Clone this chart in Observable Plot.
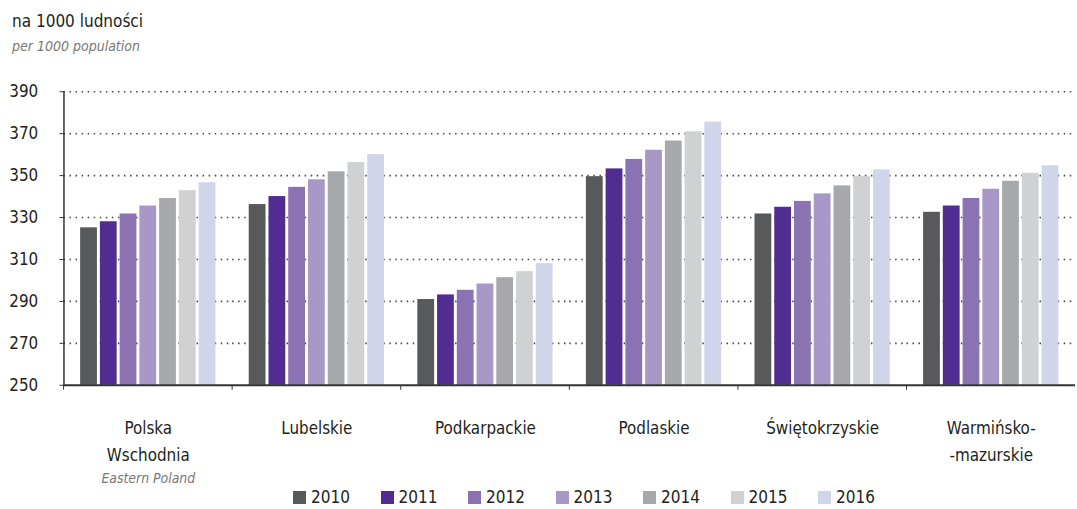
<!DOCTYPE html>
<html><head><meta charset="utf-8">
<script src="https://cdn.jsdelivr.net/npm/d3@7"></script>
<script src="https://cdn.jsdelivr.net/npm/@observablehq/plot@0.6"></script>
<style>
body{margin:0;background:#fff;overflow:hidden;width:1077px;height:509px;}
#wrap{position:relative;width:1077px;height:509px;overflow:hidden;font-family:"DejaVu Sans Condensed","DejaVu Sans",sans-serif;font-stretch:condensed;color:#231f20;}
#title{position:absolute;left:12px;top:13px;font-size:17px;line-height:17px;white-space:nowrap;}
#sub{position:absolute;left:12px;top:39px;font-size:14px;line-height:14px;font-style:italic;color:#777;white-space:nowrap;}
#chart{position:absolute;left:0;top:0;}
#legend{position:absolute;left:293px;top:489px;display:flex;}
.item{width:87.5px;display:flex;align-items:center;font-size:17px;line-height:17px;}
.sw{width:13px;height:13px;margin-right:5px;flex:none;}
</style></head><body>
<div id="wrap">
<div id="chart"></div>
<div id="title">na 1000 ludności</div>
<div id="sub">per 1000 population</div>
<div id="legend"></div>
</div>
<script>
const regions = ["Polska Wschodnia","Lubelskie","Podkarpackie","Podlaskie","Świętokrzyskie","Warmińsko-mazurskie"];
const regionLabels = ["Polska\nWschodnia","Lubelskie","Podkarpackie","Podlaskie","Świętokrzyskie","Warmińsko-\n-mazurskie"];
const regionLabelsEn = ["Eastern Poland","","","","",""];
const years = ["2010","2011","2012","2013","2014","2015","2016"];
const colors = ["#58595b","#522d91","#8a72b3","#a898c8","#a7a8ac","#d0d1d3","#d0d5ea"];
const v2010 = [325.1, 336.2, 290.9, 349.5, 331.7, 332.5];
const v2011 = [328.0, 340.0, 293.1, 353.2, 334.9, 335.5];
const v2012 = [331.7, 344.4, 295.3, 357.7, 337.7, 339.1];
const v2013 = [335.5, 348.0, 298.3, 362.1, 341.3, 343.5];
const v2014 = [339.1, 351.8, 301.3, 366.5, 345.1, 347.3];
const v2015 = [342.8, 356.2, 304.2, 370.9, 349.5, 351.1];
const v2016 = [346.6, 360.0, 308.0, 375.5, 352.7, 354.7];
const yTicks = [250, 270, 290, 310, 330, 350, 370, 390];

const series = [v2010, v2011, v2012, v2013, v2014, v2015, v2016];
const rows = [];
regions.forEach((r, i) => years.forEach((y, j) => rows.push({region: r, year: y, value: series[j][i]})));

const font = '"DejaVu Sans Condensed","DejaVu Sans",sans-serif';
const W = 1086, ML = 61;
const halfStep = (W - ML) / regions.length / 2;

const plot = Plot.plot({
  width: W, height: 509,
  marginTop: 92, marginBottom: 121, marginLeft: ML, marginRight: 0,
  style: {fontFamily: font, fontSize: "17px", color: "#231f20", background: "transparent", fontStretch: "condensed"},
  fx: {domain: regions, padding: 0, label: null},
  x: {domain: years, paddingInner: 0.15, paddingOuter: 0.844, round: false, axis: null},
  y: {domain: [250, 390], axis: null},
  color: {domain: years, range: colors},
  marks: [
    Plot.ruleY(yTicks.slice(1), {stroke: "#444", strokeWidth: 1.6, strokeDasharray: "1.5,4.6"}),
    Plot.barY(rows, {fx: "region", x: "year", y1: 250, y2: "value", fill: "year"}),
    Plot.ruleY([250], {stroke: "#333", strokeWidth: 2}),
    Plot.frame({anchor: "left", facetAnchor: "left", stroke: "#333", strokeWidth: 1.5}),
    Plot.axisY({ticks: yTicks, anchor: "left", tickSize: 4, tickPadding: 22, label: null, stroke: "#333", fontSize: 17}),
    Plot.axisFx({anchor: "bottom", tickSize: 5, dx: -halfStep, tickFormat: () => "", label: null, stroke: "#333"}),
    Plot.axisFx({anchor: "bottom", tickSize: 0, tickPadding: 30, lineHeight: 1.58, label: null, fontSize: 17,
      tickFormat: d => regionLabels[regions.indexOf(d)]}),
    Plot.axisFx({anchor: "bottom", tickSize: 0, tickPadding: 88.5, label: null, fontStyle: "italic", fill: "#777", fontSize: 14,
      tickFormat: d => regionLabelsEn[regions.indexOf(d)]})
  ]
});
document.getElementById("chart").appendChild(plot);

const legend = document.getElementById("legend");
years.forEach((y, i) => {
  const it = document.createElement("div");
  it.className = "item";
  it.innerHTML = `<span class="sw" style="background:${colors[i]}"></span><span>${y}</span>`;
  legend.appendChild(it);
});
</script>
</body></html>
